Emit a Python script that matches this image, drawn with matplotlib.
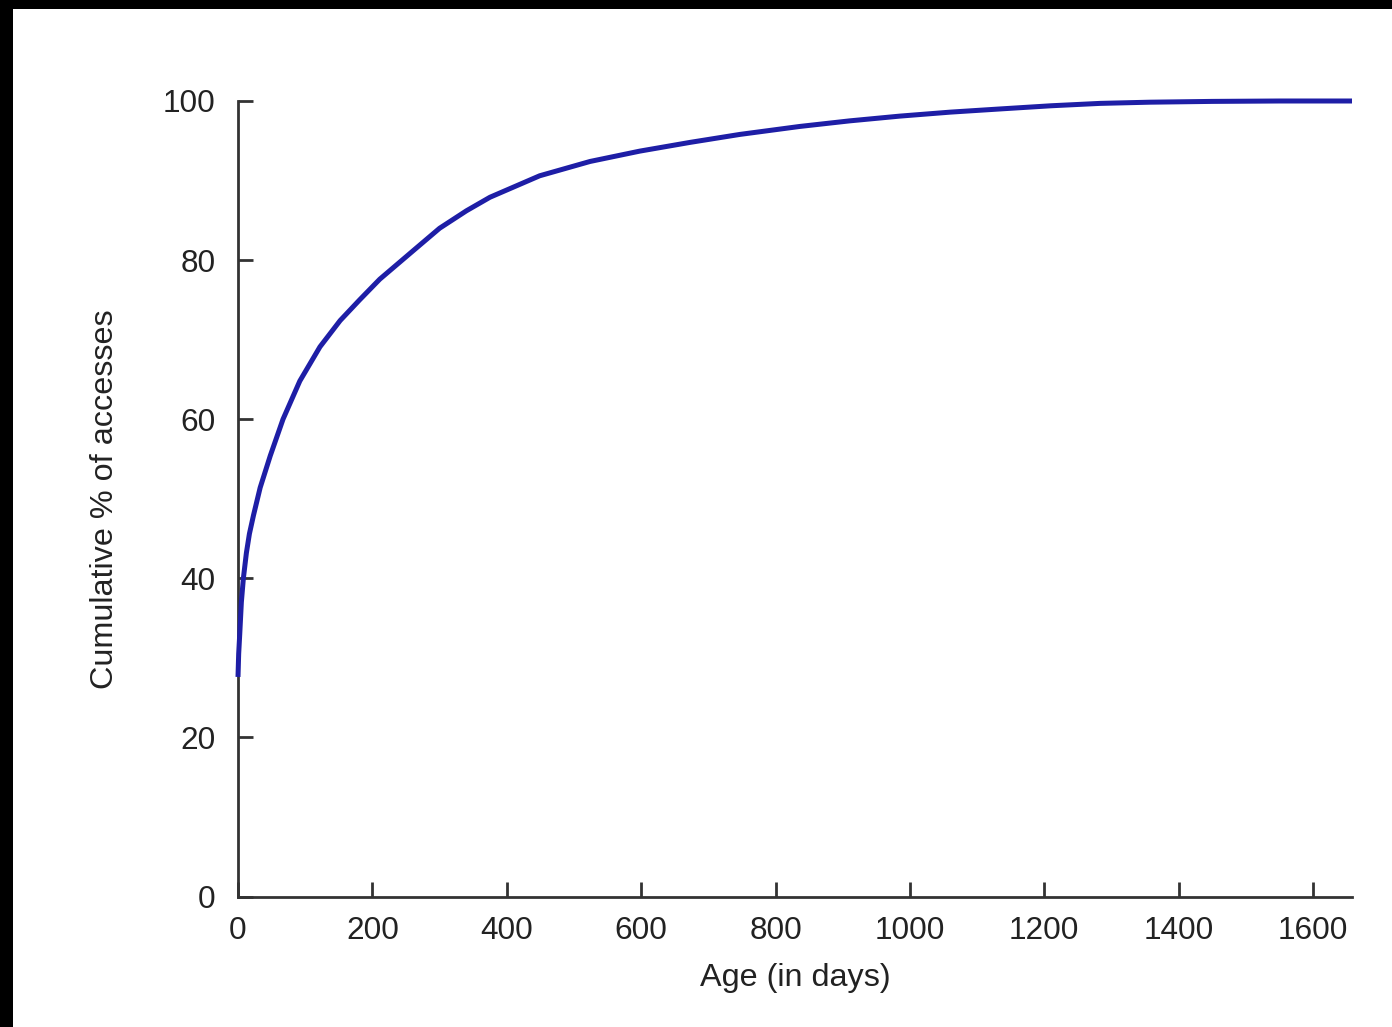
import numpy as np
import matplotlib
matplotlib.use('Agg')
import matplotlib.pyplot as plt
from matplotlib.patches import Rectangle

plt.rcParams['font.family'] = ['Liberation Sans', 'DejaVu Sans']

# Cumulative share of accesses by file age
age_days = [0, 1, 2.6, 5, 8, 12.5, 17, 23, 33, 48, 67, 92, 122, 152, 181,
            211, 261, 300, 340, 375, 449, 524, 598, 673, 747, 836, 910, 985,
            1060, 1134, 1210, 1283, 1357, 1450, 1550, 1658]
cum_pct = [27.6, 30.5, 33.0, 37.0, 40.0, 43.2, 45.6, 47.9, 51.4, 55.4, 60.0,
           64.8, 69.1, 72.4, 75.0, 77.6, 81.2, 84.0, 86.2, 87.9, 90.6, 92.4,
           93.7, 94.8, 95.8, 96.8, 97.5, 98.1, 98.6, 99.0, 99.4, 99.7, 99.85,
           99.95, 100.0, 100.0]

xticks = [0, 200, 400, 600, 800, 1000, 1200, 1400, 1600]
yticks = [0, 20, 40, 60, 80, 100]

W, H = 1392, 1027
fig = plt.figure(figsize=(W/100, H/100), dpi=100)
fig.patch.set_facecolor('white')

# black frame strips along top and left edge
fig.patches.append(Rectangle((0, 1-9/H), 1, 9/H, transform=fig.transFigure,
                             facecolor='black', edgecolor='none', zorder=0))
fig.patches.append(Rectangle((0, 0), 13/W, 1, transform=fig.transFigure,
                             facecolor='black', edgecolor='none', zorder=0))

ax = fig.add_axes([238/W, 1-896.5/H, (1352-238)/W, (896.5-101)/H])

ax.plot(age_days, cum_pct, color='#1e1ea6', lw=3.6, clip_on=False,
        solid_capstyle='butt', solid_joinstyle='round', zorder=5)

ax.set_xlim(0, 1658)
ax.set_ylim(0, 100)
ax.set_xticks(xticks)
ax.set_yticks(yticks)

axcol = '#333333'
for s in ['top', 'right']:
    ax.spines[s].set_visible(False)
for s in ['left', 'bottom']:
    ax.spines[s].set_color(axcol)
    ax.spines[s].set_linewidth(2.0)

ax.tick_params(direction='in', length=11, width=2.0, color=axcol,
               labelcolor='#222222', labelsize=22.7)
ax.tick_params(axis='y', pad=16)
ax.tick_params(axis='x', pad=14)

ax.set_xlabel('Age (in days)', fontsize=23.3, color='#222222', labelpad=12)
ax.set_ylabel('Cumulative % of accesses', fontsize=23.3, color='#222222', labelpad=31)

fig.savefig('out.png', dpi=100)
